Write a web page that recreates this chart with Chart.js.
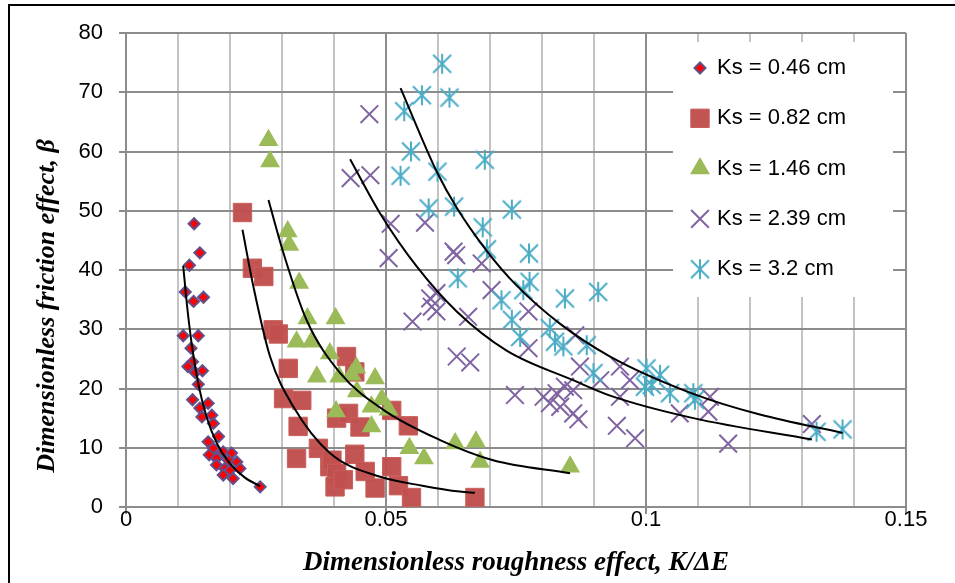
<!DOCTYPE html>
<html>
<head>
<meta charset="utf-8">
<title>Friction effect vs roughness effect</title>
<script src="https://cdn.jsdelivr.net/npm/chart.js@4"></script>
<style>
  body { margin: 0; background: #fff; }
  #wrap { position: relative; width: 955px; height: 583px; overflow: hidden; }
  #frame { position: absolute; left: 8px; top: 4px; right: -10px; bottom: -10px;
           border-top: 2px solid #000; border-left: 2px solid #000; pointer-events: none; }
</style>
</head>
<body>
<div id="wrap">
  <canvas id="chart" width="955" height="583"></canvas>
  <div id="frame"></div>
</div>
<script>
// ---- data ----
const seriesLabels = ['Ks = 0.46 cm', 'Ks = 0.82 cm', 'Ks = 1.46 cm', 'Ks = 2.39 cm', 'Ks = 3.2 cm'];
const xTickLabels = ['0', '0.05', '0.1', '0.15'];
const yTickLabels = ['0', '10', '20', '30', '40', '50', '60', '70', '80'];
const xTitle = 'Dimensionless roughness effect, K/ΔE';
const yTitle = 'Dimensionless friction effect, β';

const ks046X = [0.0131,0.0142,0.0122,0.0114,0.0130,0.0149,0.0110,0.0139,0.0125,0.0128,0.0119,0.0133,0.0147,0.0139,0.0128,0.0158,0.0142,0.0146,0.0165,0.0168,0.0158,0.0178,0.0168,0.0187,0.0203,0.0160,0.0174,0.0197,0.0213,0.0174,0.0190,0.0219,0.0200,0.0187,0.0206,0.0258];
const ks046Y = [47.8,42.9,40.8,36.3,34.7,35.4,28.9,28.9,26.8,24.5,23.7,22.7,23.0,20.7,18.1,17.5,16.7,15.2,15.5,14.1,11.0,11.9,9.9,9.3,9.1,8.8,8.2,7.9,7.6,7.1,6.5,6.5,6.2,5.4,4.8,3.4];

const ks082X = [0.0224,0.0243,0.0265,0.0283,0.0293,0.0312,0.0303,0.0338,0.0331,0.0328,0.0424,0.0440,0.0405,0.0428,0.0450,0.0370,0.0392,0.0396,0.0440,0.0405,0.0402,0.0418,0.0460,0.0479,0.0511,0.0543,0.0511,0.0524,0.0549,0.0671];
const ks082Y = [49.7,40.3,38.9,29.9,29.2,23.4,18.3,18.0,13.6,8.2,25.4,22.8,15.0,15.8,13.5,9.9,6.8,7.9,8.9,5.7,3.4,4.6,6.0,3.2,16.3,13.7,6.8,3.6,1.6,1.6];

const ks146X = [0.0274,0.0277,0.0311,0.0314,0.0333,0.0349,0.0403,0.0328,0.0357,0.0392,0.0367,0.0410,0.0434,0.0443,0.0479,0.0444,0.0492,0.0472,0.0505,0.0404,0.0472,0.0545,0.0573,0.0633,0.0673,0.0681,0.0854];
const ks146Y = [61.9,58.3,46.5,44.2,37.8,31.8,31.8,27.9,27.9,25.9,22.0,22.0,22.3,23.5,21.7,19.5,18.2,16.9,16.4,16.1,13.6,9.9,8.2,10.7,11.0,7.6,6.8];

const ks239X = [0.0468,0.0432,0.0470,0.0509,0.0575,0.0505,0.0630,0.0635,0.0684,0.0703,0.0597,0.0585,0.0588,0.0597,0.0658,0.0551,0.0774,0.0774,0.0636,0.0662,0.0748,0.0803,0.0815,0.0828,0.0835,0.0844,0.0860,0.0864,0.0873,0.0860,0.0870,0.0912,0.0950,0.0969,0.0950,0.0944,0.0979,0.1065,0.1123,0.1120,0.1158,0.1319];
const ks239Y = [66.3,55.5,56.0,47.8,48.0,42.0,43.1,42.5,41.1,36.6,36.1,35.2,33.8,33.0,32.1,31.3,33.0,26.8,25.4,24.4,18.9,18.6,17.5,19.2,16.9,20.3,15.8,29.0,23.7,19.7,14.8,21.4,23.7,21.4,18.6,13.7,11.6,15.8,18.6,16.1,10.7,14.0];

const ks32X = [0.0608,0.0569,0.0622,0.0535,0.0548,0.0690,0.0528,0.0599,0.0582,0.0631,0.0742,0.0686,0.0694,0.0775,0.0638,0.0776,0.0764,0.0722,0.0844,0.0908,0.0742,0.0758,0.0815,0.0825,0.0841,0.0886,0.0899,0.1001,0.1027,0.0998,0.1011,0.1046,0.1091,0.1094,0.1328,0.1378];
const ks32Y = [74.8,69.5,69.1,66.8,60.0,58.6,55.9,56.6,50.4,50.7,50.2,47.2,43.5,42.8,38.6,38.0,36.6,34.9,35.2,36.3,31.6,28.7,30.2,27.9,27.1,27.3,22.6,23.4,22.3,20.3,20.6,19.2,19.2,18.1,12.7,13.1];

// trend curves (black), points traced along the drawn fits
const trend046X = [0.0110,0.0118,0.0128,0.0140,0.0155,0.0175,0.0200,0.0228,0.0258];
const trend046Y = [40.7,33.5,26.5,20.4,15.2,10.7,7.3,5.0,3.5];
const trend082X = [0.0224,0.0245,0.0277,0.0322,0.0392,0.0489,0.0570,0.0642,0.0671];
const trend082Y = [46.8,37.2,25.4,16.9,9.1,5.1,3.6,2.6,2.4];
const trend146X = [0.0274,0.0303,0.0347,0.0412,0.0495,0.0604,0.0706,0.0854];
const trend146Y = [51.8,42.8,31.6,22.6,16.4,11.3,7.9,5.7];
const trend239X = [0.0431,0.0489,0.0559,0.0636,0.0732,0.0860,0.0931,0.1091,0.1319];
const trend239Y = [58.7,49.5,40.6,33.0,26.4,21.4,18.8,15.0,11.4];
const trend32X = [0.0528,0.0597,0.0636,0.0694,0.0751,0.0835,0.0931,0.1091,0.1219,0.1378];
const trend32Y = [70.7,56.7,50.5,43.2,37.4,30.9,25.4,19.1,15.6,12.5];

function pts(xs, ys) {
  return xs.map((x, i) => ({ x: x, y: ys[i] }));
}

// Excel-like star marker: X plus a vertical bar
function makeStar(color) {
  const c = document.createElement('canvas');
  c.width = 22; c.height = 22;
  const g = c.getContext('2d');
  g.strokeStyle = color;
  g.lineWidth = 2;
  g.beginPath();
  g.moveTo(2, 2); g.lineTo(20, 20);
  g.moveTo(20, 2); g.lineTo(2, 20);
  g.moveTo(11, 1); g.lineTo(11, 21);
  g.stroke();
  return c;
}

const GRID_DARK = '#8c8c8c';
const GRID_LIGHT = '#c3c3c3';
const TITLE_FONT = '"Liberation Serif", "Times New Roman", serif';

function trend(xs, ys) {
  return {
    data: pts(xs, ys),
    showLine: true,
    borderColor: '#000',
    borderWidth: 2,
    pointRadius: 0,
    cubicInterpolationMode: 'monotone',
    fill: false,
    order: 0,
    isTrend: true
  };
}

const isMajorX = v => Math.abs(v * 20 - Math.round(v * 20)) < 1e-6;

// legend box inside the plot + the y title (sits a bit below centre in the original)
const extras = {
  id: 'extras',
  afterDraw(chart) {
    const ctx = chart.ctx;
    const area = chart.chartArea;
    const left = area.right - 233, top = area.top + 9;
    ctx.save();
    ctx.fillStyle = '#fff';
    ctx.fillRect(left, top, 220, 255);
    const sets = chart.data.datasets.filter(d => !d.isTrend);
    sets.forEach((d, i) => {
      const y = top + 26 + i * 50.3;
      ctx.fillStyle = d.backgroundColor;
      ctx.strokeStyle = d.borderColor;
      ctx.lineWidth = d.borderWidth;
      Chart.helpers.drawPoint(ctx, {
        pointStyle: d.pointStyle, radius: d.pointRadius,
        borderWidth: d.borderWidth, rotation: 0
      }, left + 27, y);
      ctx.fillStyle = '#000';
      ctx.font = '22px "Liberation Sans", Arial, sans-serif';
      ctx.textBaseline = 'middle';
      ctx.textAlign = 'left';
      ctx.fillText(d.label, left + 44, y);
    });

    ctx.translate(47, (area.top + area.bottom) / 2 + 36);
    ctx.rotate(-Math.PI / 2);
    ctx.fillStyle = '#000';
    ctx.font = 'italic bold 26px ' + TITLE_FONT;
    ctx.textAlign = 'center';
    ctx.textBaseline = 'middle';
    ctx.fillText(yTitle, 0, 0);
    ctx.restore();
  }
};

new Chart(document.getElementById('chart'), {
  type: 'scatter',
  data: {
    datasets: [
      {
        label: seriesLabels[0], data: pts(ks046X, ks046Y),
        pointStyle: 'rectRot', pointRadius: 5.5, borderWidth: 2,
        backgroundColor: '#ff0000', borderColor: '#634f8a', order: 5
      },
      {
        label: seriesLabels[1], data: pts(ks082X, ks082Y),
        pointStyle: 'rect', pointRadius: 13, borderWidth: 1,
        backgroundColor: 'rgba(192,80,77,0.97)', borderColor: 'rgba(200,95,92,1)', order: 4
      },
      {
        label: seriesLabels[2], data: pts(ks146X, ks146Y),
        pointStyle: 'triangle', pointRadius: 11.5, borderWidth: 0,
        backgroundColor: '#9bbb59', borderColor: '#9bbb59', order: 3
      },
      {
        label: seriesLabels[3], data: pts(ks239X, ks239Y),
        pointStyle: 'crossRot', pointRadius: 12.5, borderWidth: 2,
        backgroundColor: '#8064a2', borderColor: '#8064a2', order: 2
      },
      {
        label: seriesLabels[4], data: pts(ks32X, ks32Y),
        pointStyle: makeStar('#4bacc6'), pointRadius: 10, borderWidth: 2,
        backgroundColor: '#4bacc6', borderColor: '#4bacc6', order: 1
      },
      trend(trend046X, trend046Y),
      trend(trend082X, trend082Y),
      trend(trend146X, trend146Y),
      trend(trend239X, trend239Y),
      trend(trend32X, trend32Y)
    ]
  },
  options: {
    responsive: false,
    animation: false,
    layout: { padding: { left: 0, top: 33, right: 49, bottom: 0 } },
    plugins: { legend: { display: false }, tooltip: { enabled: false } },
    scales: {
      x: {
        type: 'linear', min: 0, max: 0.15,
        afterFit(s) { s.height = 76; },
        grid: {
          lineWidth: 2,
          tickLength: 7,
          color: c => isMajorX(c.tick.value) ? GRID_DARK : GRID_LIGHT,
          tickColor: c => isMajorX(c.tick.value) ? GRID_DARK : 'rgba(0,0,0,0)'
        },
        border: { color: GRID_DARK, width: 2 },
        ticks: {
          stepSize: 0.01, autoSkip: false, maxRotation: 0, padding: -7,
          color: '#000',
          font: { family: '"Liberation Sans", Arial, sans-serif', size: 22 },
          callback: v => isMajorX(v) ? xTickLabels[Math.round(v * 20)] : ''
        },
        title: {
          display: true,
          text: xTitle,
          color: '#000',
          font: { family: TITLE_FONT, size: 27, weight: 'bold', style: 'italic' },
          padding: { top: 0, bottom: 4 }
        }
      },
      y: {
        min: 0, max: 80,
        afterFit(s) { s.width = 126; },
        grid: { lineWidth: 2, tickLength: 7, color: GRID_DARK, tickColor: GRID_DARK },
        border: { color: GRID_DARK, width: 2 },
        ticks: {
          stepSize: 10, padding: 16, color: '#000',
          font: { family: '"Liberation Sans", Arial, sans-serif', size: 22 },
          callback: v => yTickLabels[Math.round(v / 10)]
        }
      }
    }
  },
  plugins: [extras]
});
</script>
</body>
</html>
